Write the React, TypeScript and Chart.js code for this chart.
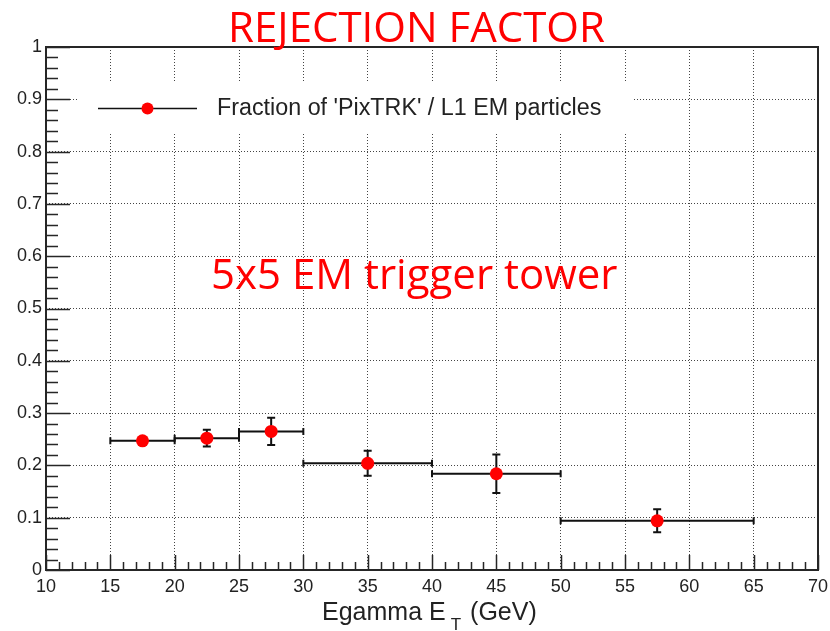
import React, { useEffect, useRef } from "react";
import { Chart, registerables } from "chart.js";

Chart.register(...registerables);

// ---- data ----
const binLow = [15, 20, 25, 30, 40, 50];
const binHigh = [20, 25, 30, 40, 50, 65];
const binCenter = [17.5, 22.5, 27.5, 35, 45, 57.5];
const fraction = [0.247, 0.252, 0.265, 0.204, 0.184, 0.094];
const fractionErr = [0.004, 0.016, 0.026, 0.024, 0.037, 0.022];

const titleText = "REJECTION FACTOR";
const noteText = "5x5 EM trigger tower";
const legendLabel = "Fraction of 'PixTRK' / L1 EM particles";
const xTitleMain = "Egamma E";
const xTitleSub = "T";
const xTitleUnit = "(GeV)";

const X_MIN = 10;
const X_MAX = 70;
const X_STEP = 5;
const Y_MIN = 0;
const Y_MAX = 1;
const Y_STEP = 0.1;

const MARKER_R = 6.5;
const RED = "#ff0000";
const AXIS = "#262626";

const rootStyle = {
  id: "rootStyle",
  beforeDatasetsDraw(chart: any) {
    const { ctx, chartArea: a, scales } = chart;
    const x = scales.x;
    const y = scales.y;
    ctx.save();

    // legend box (white, hides grid)
    ctx.fillStyle = "#ffffff";
    ctx.fillRect(77, 82, 632 - 77, 133 - 82);

    // legend line + marker
    ctx.strokeStyle = "#111";
    ctx.lineWidth = 1.5;
    ctx.beginPath();
    ctx.moveTo(98, 108.5);
    ctx.lineTo(197, 108.5);
    ctx.stroke();
    ctx.fillStyle = RED;
    ctx.beginPath();
    ctx.arc(147.5, 108.5, 6, 0, Math.PI * 2);
    ctx.fill();

    // inward ticks
    ctx.strokeStyle = AXIS;
    ctx.lineWidth = 1.5;
    ctx.beginPath();
    for (let v = X_MIN; v <= X_MAX + 1e-9; v += 1) {
      const px = Math.round(x.getPixelForValue(v)) + 0.5;
      const len = Math.round(v) % 5 === 0 ? 15 : 8;
      ctx.moveTo(px, a.bottom);
      ctx.lineTo(px, a.bottom - len);
    }
    for (let i = 0; i <= 50; i++) {
      const v = i * 0.02;
      const py = Math.round(y.getPixelForValue(v)) + 0.5;
      const len = i % 5 === 0 ? 24 : 12;
      ctx.moveTo(a.left, py);
      ctx.lineTo(a.left + len, py);
    }
    ctx.stroke();

    // frame
    ctx.lineWidth = 2;
    ctx.strokeRect(a.left, a.top, a.right - a.left, a.bottom - a.top);

    // error bars
    ctx.strokeStyle = "#111";
    ctx.lineWidth = 2;
    for (let i = 0; i < fraction.length; i++) {
      const xl = x.getPixelForValue(binLow[i]);
      const xh = x.getPixelForValue(binHigh[i]);
      const xc = x.getPixelForValue(binCenter[i]);
      const yc = y.getPixelForValue(fraction[i]);
      ctx.beginPath();
      ctx.moveTo(xl, yc);
      ctx.lineTo(xh, yc);
      ctx.moveTo(xl, yc - 3.5);
      ctx.lineTo(xl, yc + 3.5);
      ctx.moveTo(xh, yc - 3.5);
      ctx.lineTo(xh, yc + 3.5);
      const yt = y.getPixelForValue(fraction[i] + fractionErr[i]);
      const yb = y.getPixelForValue(fraction[i] - fractionErr[i]);
      if (yb - yt > 2 * MARKER_R + 2) {
        ctx.moveTo(xc, yt);
        ctx.lineTo(xc, yb);
        ctx.moveTo(xc - 4, yt);
        ctx.lineTo(xc + 4, yt);
        ctx.moveTo(xc - 4, yb);
        ctx.lineTo(xc + 4, yb);
      }
      ctx.stroke();
    }
    ctx.restore();
  },
};

export default function App() {
  const ref = useRef<HTMLCanvasElement | null>(null);

  useEffect(() => {
    if (!ref.current) return;
    const chart = new Chart(ref.current, {
      type: "scatter",
      data: {
        datasets: [
          {
            label: legendLabel,
            data: binCenter.map((c, i) => ({ x: c, y: fraction[i] })),
            pointRadius: MARKER_R,
            pointHoverRadius: MARKER_R,
            pointBackgroundColor: RED,
            pointBorderColor: RED,
            pointBorderWidth: 0,
            showLine: false,
          },
        ],
      },
      options: {
        animation: false,
        responsive: true,
        maintainAspectRatio: false,
        layout: { padding: { top: 47, right: 12, left: 0, bottom: 0 } },
        plugins: {
          legend: { display: false },
          tooltip: { enabled: false },
          title: { display: false },
        },
        scales: {
          x: {
            type: "linear",
            min: X_MIN,
            max: X_MAX,
            afterFit: (s: any) => {
              s.height = 61;
              s.paddingLeft = 0;
              s.paddingRight = 0;
            },
            ticks: {
              stepSize: X_STEP,
              color: "#222",
              padding: 6,
              font: { family: "'Liberation Sans', Arial, sans-serif", size: 18 },
              maxRotation: 0,
            },
            grid: { drawTicks: false, color: "#444", lineWidth: 1 },
            border: { display: false, dash: [1, 2] },
          },
          y: {
            type: "linear",
            min: Y_MIN,
            max: Y_MAX,
            afterFit: (s: any) => {
              s.width = 46;
              s.paddingTop = 0;
              s.paddingBottom = 0;
            },
            ticks: {
              stepSize: Y_STEP,
              color: "#222",
              padding: 4,
              font: { family: "'Liberation Sans', Arial, sans-serif", size: 18 },
              callback: (v: any) => String(Number(Number(v).toFixed(1))),
            },
            grid: { drawTicks: false, color: "#444", lineWidth: 1 },
            border: { display: false, dash: [1, 2] },
          },
        },
      },
      plugins: [rootStyle],
    });
    return () => chart.destroy();
  }, []);

  const abs: React.CSSProperties = { position: "absolute", whiteSpace: "nowrap", lineHeight: 1 };

  return (
    <div
      style={{
        position: "fixed",
        left: 0,
        top: 0,
        width: 830,
        height: 631,
        background: "#fff",
        overflow: "hidden",
      }}
    >
      <canvas ref={ref} />
      <div
        style={{
          ...abs,
          left: 0,
          width: 830,
          top: 5,
          textAlign: "center",
          color: RED,
          fontFamily: "'Open Sans', sans-serif",
          fontSize: 42,
        }}
      >
        <span style={{ display: "inline-block", marginLeft: 3 }}>{titleText}</span>
      </div>
      <div
        style={{
          ...abs,
          left: 211,
          top: 252,
          color: RED,
          fontFamily: "'Open Sans', sans-serif",
          fontSize: 42,
        }}
      >
        {noteText}
      </div>
      <div
        style={{
          ...abs,
          left: 217,
          top: 96,
          color: "#222",
          fontFamily: "'Liberation Sans', Arial, sans-serif",
          fontSize: 23.3,
        }}
      >
        {legendLabel}
      </div>
      <div
        style={{
          ...abs,
          left: 322,
          top: 599,
          color: "#222",
          fontFamily: "'Liberation Sans', Arial, sans-serif",
          fontSize: 25,
        }}
      >
        {xTitleMain}
        <span style={{ fontSize: 17, position: "relative", top: 10, marginLeft: 5, marginRight: 9 }}>
          {xTitleSub}
        </span>
        {xTitleUnit}
      </div>
    </div>
  );
}
